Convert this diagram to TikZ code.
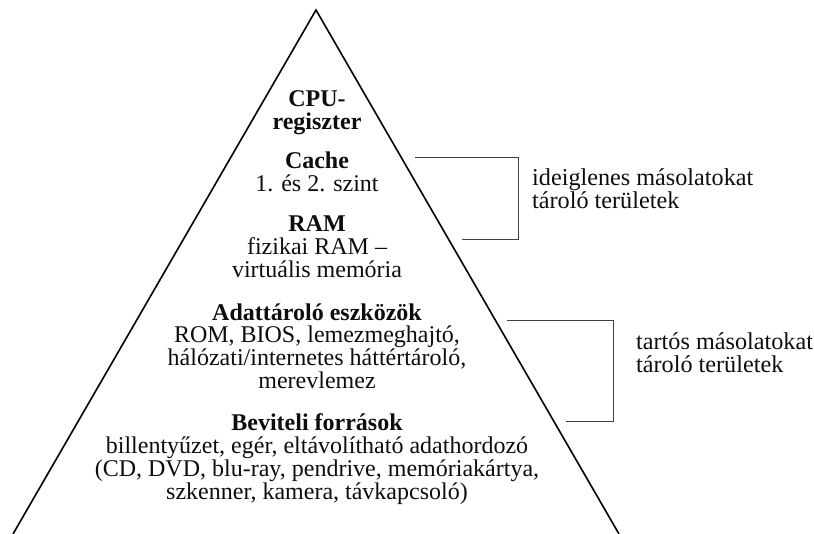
\documentclass[tikz,border=0pt]{standalone}
\usepackage{fontspec}
\setmainfont{Liberation Serif}
\usetikzlibrary{positioning}

\tikzset{
  level/.style={align=center,inner sep=0pt,anchor=base,text=black!95,
    font=\fontsize{24}{23}\selectfont},
  note/.style={align=left,inner sep=0pt,anchor=base west,text=black!95,
    font=\fontsize{24.2}{23}\selectfont},
  bracket/.style={draw=black!75,line width=1pt}
}

\begin{document}
\begin{tikzpicture}[x=1pt,y=-1pt]
  \useasboundingbox (0,0) rectangle (814,534);

  % pyramid
  \coordinate (top) at (316,10);
  \coordinate (bl) at (13,534);
  \coordinate (br) at (619,534);
  \draw[line width=1.6pt,line join=miter] (bl) -- (top) -- (br);

  % levels (placed at the baseline of their last line)
  \node[level] (cpu) at (317,130) {\textbf{CPU-}\\\textbf{regiszter}};
  \node[level] (cache) at (317,191.5) {\textbf{Cache}\\1. és 2. szint};
  \node[level] (ram) at (317,277.5) {\textbf{RAM}\\fizikai RAM –\\virtuális memória};
  \node[level] (disk) at (317,389) {\textbf{Adattároló eszközök}\\ROM, BIOS, lemezmeghajtó,\\hálózati/internetes háttértároló,\\merevlemez};
  \node[level] (input) at (317,499) {\textbf{Beviteli források}\\billentyűzet, egér, eltávolítható adathordozó\\(CD, DVD, blu-ray, pendrive, memóriakártya,\\szkenner, kamera, távkapcsoló)};

  % brackets
  \coordinate (t1) at (415,157.5);
  \coordinate (b1) at (462,239.5);
  \draw[bracket] (t1) -- (518,157.5) -- (518,239.5) -- (b1);
  \coordinate (t2) at (507,321);
  \coordinate (b2) at (566,421.5);
  \draw[bracket] (t2) -- (613,321) -- (613,421.5) -- (b2);

  \node[note] (temp) at (532,208.5) {ideiglenes másolatokat\\tároló területek};
  \node[note] (perm) at (636,373) {tartós másolatokat\\tároló területek};
\end{tikzpicture}
\end{document}
